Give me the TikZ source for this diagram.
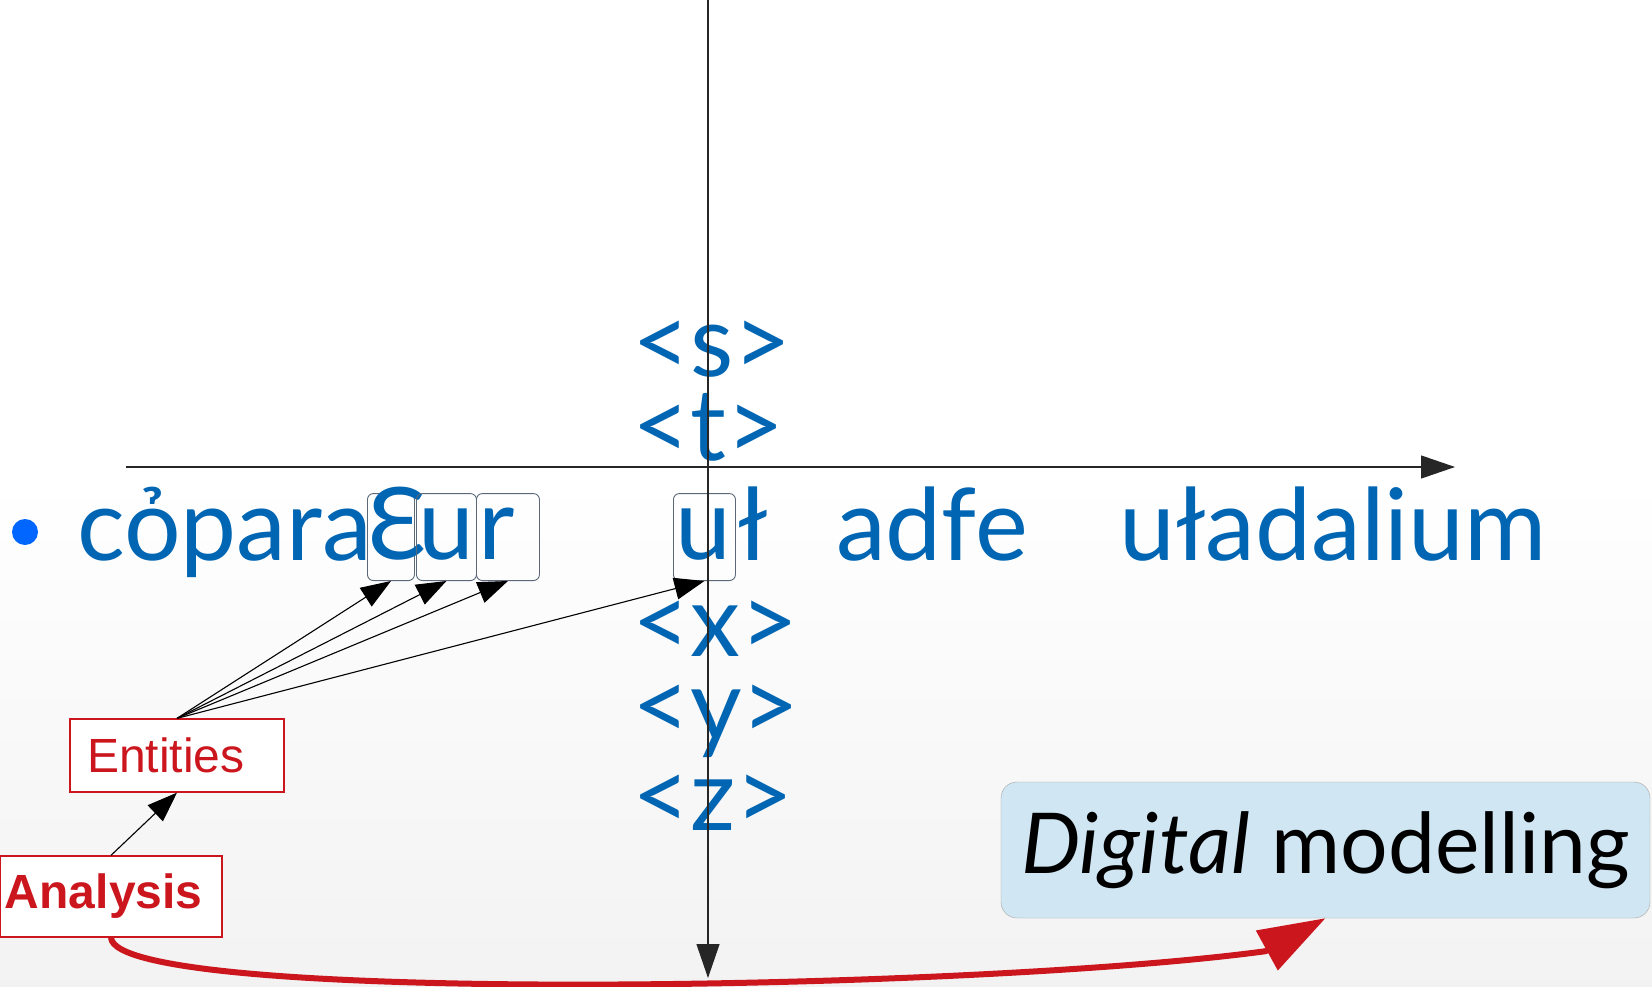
\documentclass[tikz,border=0pt]{standalone}
\usepackage{fontspec}
\setmainfont{Lato}
\newfontfamily\labelfont{Liberation Sans}
\usepackage{tikz}
\usepackage{xcolor}
\usetikzlibrary{arrows.meta}
\definecolor{wordblue}{RGB}{0,101,179}
\definecolor{dotblue}{RGB}{0,102,255}
\definecolor{tagred}{RGB}{204,22,30}
\definecolor{boxblue}{RGB}{208,230,243}
\definecolor{boxedge}{RGB}{90,104,120}

\begin{document}
\begin{tikzpicture}[x=1pt,y=-1pt,
    word/.style={text=wordblue, font=\fontsize{100}{110}\selectfont, inner sep=0pt, anchor=base west},
    glyphbox/.style={draw=boxedge, line width=0.9pt, rounded corners=6pt, text=wordblue,
        font=\fontsize{100}{110}\selectfont, inner xsep=2pt, inner ysep=0pt,
        text height=66pt, text depth=21pt, text width=#1, align=left, anchor=south west},
    tag/.style={draw=tagred, line width=1.3pt, fill=white, text=tagred, inner ysep=0pt, align=left},
    pointer/.style={-{Triangle[length=30pt,width=22pt]}, line width=1.1pt},
    axis/.style={-{Triangle[length=34pt,width=23pt]}, line width=1.2pt, black!85},
    flow/.style={draw=tagred, line width=6pt, -{Triangle[length=67pt,width=44pt]}}]
    \useasboundingbox (0,0) rectangle (1652,987);
    \fill[white] (0,0) rectangle (1652,987);
    \shade[top color=white, bottom color=black!5] (0,480) rectangle (1652,987);

    \node[circle, fill=dotblue, minimum size=26pt, inner sep=0pt] (dot) at (25,532) {};
    \node[word] (w1) at (77,560) {cỏpara};
    \node[glyphbox=47pt, inner xsep=0pt] (g1) at (367,581) {Ɛ};
    \node[glyphbox=56pt] (g2) at (416,581) {u};
    \node[glyphbox=59pt] (g3) at (476,581) {r};
    \node[glyphbox=58pt] (g4) at (673,581) {u};
    \node[word] (w2) at (737,560) {ł};
    \node[word] (w3) at (836,560) {adfe};
    \node[word] (w4) at (1119,560) {uładalium};
    \foreach \lab/\y in {s/376,t/460,x/656,y/740,z/830}
        \node[word] (tag-\lab) at (632,\y) {<\lab>};

    \coordinate (axL) at (126,467);
    \coordinate (axR) at (1455,467);
    \coordinate (axT) at (708,0);
    \coordinate (axB) at (708,978);
    \draw[axis] (axL) -- (axR);
    \draw[axis] (axT) -- (axB);

    \node[tag, inner xsep=17pt, text width=180pt, minimum height=73pt,
        font=\labelfont\fontsize{48}{50}\selectfont] (ent) at (177,755.5) {Entities};
    \node[tag, inner xsep=5pt, text width=212pt, minimum height=81pt,
        font=\labelfont\bfseries\fontsize{48}{50}\selectfont] (an) at (111,896.5) {Analysis};
    \node[draw=black!35, fill=boxblue, rounded corners=16pt, minimum width=649pt, minimum height=136pt,
        inner sep=0pt, font=\fontsize{84}{88}\selectfont] (dm) at (1325.5,850) {\textit{Digital} modelling};

    \foreach \g in {g1,g2,g3,g4}
        \draw[pointer] (ent.north) -- (\g.south);
    \draw[pointer] (an.north) -- (ent.south);

    \coordinate (knee) at ([shift={(-60,33)}]dm.south);
    \draw[flow] (an.south) .. controls (115,1005) and (971,991) .. (knee) -- (dm.south);
\end{tikzpicture}
\end{document}
